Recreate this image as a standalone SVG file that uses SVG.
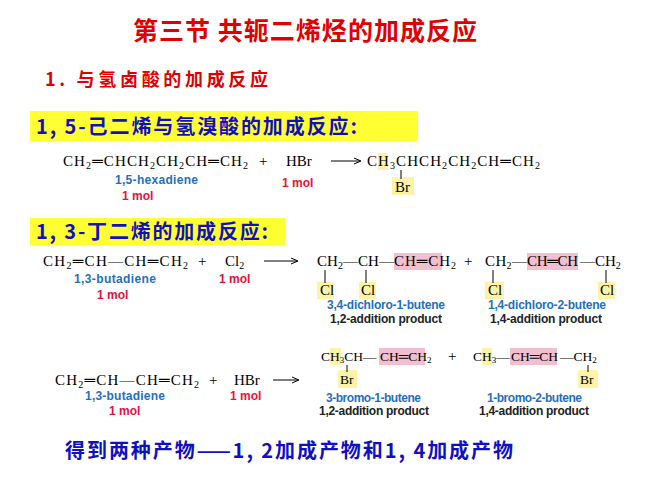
<svg xmlns="http://www.w3.org/2000/svg" width="668" height="500" viewBox="0 0 668 500">
<style>
.t{font-family:"Noto Sans CJK SC",sans-serif;font-weight:bold}
.c{font-family:"Liberation Serif",serif;font-size:15px;fill:#000}
.s{font-family:"Liberation Serif",serif;font-size:13.5px;fill:#000}
.b{font-family:"Liberation Sans",sans-serif;font-size:12px;fill:#1f6fbf;font-weight:bold}
.r{font-family:"Liberation Sans",sans-serif;font-size:12px;fill:#e8103c;font-weight:bold}
.k{font-family:"Liberation Sans",sans-serif;font-size:12px;fill:#222;font-weight:bold}
.y{fill:#fbf3a8}.p{fill:#f2bfd0}
line{stroke:#000;stroke-width:1}
</style>
<rect width="668" height="500" fill="#fff"/>
<g id="title"><text class="t" x="133" y="40" font-size="25" fill="#e00000" textLength="344" lengthAdjust="spacing">第三节  共轭二烯烃的加成反应</text></g>
<g id="h1"><text class="t" x="45" y="86" font-size="18" fill="#e00000" textLength="223" lengthAdjust="spacing">1. 与氢卤酸的加成反应</text></g>
<g id="box1"><rect x="30" y="111" width="388" height="30" fill="#ffff33"/><text class="t" x="36" y="134" font-size="20" fill="#1010c0" textLength="321" lengthAdjust="spacing">1, 5-己二烯与氢溴酸的加成反应:</text></g>
<g id="box2"><rect x="30" y="218" width="255" height="27" fill="#ffff33"/><text class="t" x="36" y="239" font-size="20" fill="#1010c0" textLength="232" lengthAdjust="spacing">1, 3-丁二烯的加成反应:</text></g>
<g id="r1">
<rect class="y" x="378" y="153" width="10" height="17"/><rect class="y" x="392" y="177" width="22" height="18"/>
<text class="c" x="63" y="166" textLength="185" lengthAdjust="spacing">CH<tspan font-size="10" dy="3">2</tspan><tspan dy="-3">═CHCH</tspan><tspan font-size="10" dy="3">2</tspan><tspan dy="-3">CH</tspan><tspan font-size="10" dy="3">2</tspan><tspan dy="-3">CH═CH</tspan><tspan font-size="10" dy="3">2</tspan></text>
<text class="c" x="259" y="166">+</text><text class="c" x="286" y="166">HBr</text>
<text class="c" x="367" y="166" textLength="173" lengthAdjust="spacing">CH<tspan font-size="10" dy="3">3</tspan><tspan dy="-3">CHCH</tspan><tspan font-size="10" dy="3">2</tspan><tspan dy="-3">CH</tspan><tspan font-size="10" dy="3">2</tspan><tspan dy="-3">CH═CH</tspan><tspan font-size="10" dy="3">2</tspan></text>
<line x1="401" y1="170" x2="401" y2="179"/>
<text class="c" x="395" y="192">Br</text>
<text class="b" x="115" y="184" textLength="83">1,5-hexadiene</text><text class="r" x="122" y="200">1 mol</text><text class="r" x="282" y="187">1 mol</text>
</g>
<g id="r2">
<rect class="p" x="394" y="253" width="48" height="17"/><rect class="p" x="527" y="253" width="51" height="17"/>
<rect class="y" x="317" y="282" width="17" height="17"/><rect class="y" x="359" y="282" width="17" height="17"/>
<rect class="y" x="485" y="282" width="19" height="17"/><rect class="y" x="598" y="282" width="17" height="17"/>
<text class="c" x="43" y="266" textLength="145" lengthAdjust="spacing">CH<tspan font-size="10" dy="3">2</tspan><tspan dy="-3">═CH—CH═CH</tspan><tspan font-size="10" dy="3">2</tspan></text>
<text class="c" x="198" y="266">+</text><text class="c" x="225" y="266">Cl<tspan font-size="10" dy="3">2</tspan></text>
<text class="c" x="317" y="266" textLength="77" lengthAdjust="spacing">CH<tspan font-size="10" dy="3">2</tspan><tspan dy="-3">—CH—</tspan></text>
<text class="c" x="394" y="266" textLength="62" lengthAdjust="spacing">CH═CH<tspan font-size="10" dy="3">2</tspan></text>
<text class="c" x="464" y="266">+</text>
<text class="c" x="485" y="266" textLength="42" lengthAdjust="spacing">CH<tspan font-size="10" dy="3">2</tspan><tspan dy="-3">—</tspan></text>
<text class="c" x="527" y="266" textLength="51" lengthAdjust="spacing">CH═CH</text>
<text class="c" x="580" y="266">—CH<tspan font-size="10" dy="3">2</tspan></text>
<line x1="325" y1="270" x2="325" y2="283"/><line x1="366" y1="270" x2="366" y2="283"/>
<line x1="493" y1="270" x2="493" y2="283"/><line x1="606" y1="270" x2="606" y2="283"/>
<text class="c" x="320" y="295">Cl</text><text class="c" x="361" y="295">Cl</text><text class="c" x="488" y="295">Cl</text><text class="c" x="600" y="295">Cl</text>
<text class="b" x="74" y="283" textLength="82">1,3-butadiene</text><text class="r" x="97" y="299">1 mol</text><text class="r" x="219" y="283">1 mol</text>
<text class="b" x="327" y="309" textLength="118">3,4-dichloro-1-butene</text><text class="k" x="330" y="323" textLength="112">1,2-addition product</text>
<text class="b" x="488" y="309" textLength="118">1,4-dichloro-2-butene</text><text class="k" x="490" y="323" textLength="112">1,4-addition product</text>
</g>
<g id="r3">
<rect class="y" x="330" y="348" width="11" height="17"/><rect class="p" x="379" y="348" width="46" height="17"/>
<rect class="y" x="338" y="370" width="19" height="18"/>
<rect class="y" x="482" y="348" width="10" height="17"/><rect class="p" x="510" y="348" width="47" height="17"/>
<rect class="y" x="578" y="370" width="20" height="18"/>
<text class="s" x="321" y="361">CH<tspan font-size="9" dy="2">3</tspan><tspan dy="-2">CH—</tspan></text>
<text class="s" x="380" y="361">CH═CH<tspan font-size="9" dy="2">2</tspan></text>
<text class="c" x="448" y="361">+</text>
<text class="s" x="473" y="361">CH<tspan font-size="9" dy="2">3</tspan><tspan dy="-2">—</tspan></text>
<text class="s" x="511" y="361">CH═CH</text>
<text class="s" x="560" y="361">—CH<tspan font-size="9" dy="2">2</tspan></text>
<line x1="347" y1="365" x2="347" y2="372"/><line x1="588" y1="365" x2="588" y2="372"/>
<text class="s" x="340" y="384">Br</text><text class="s" x="580" y="384">Br</text>
<text class="c" x="55" y="385" textLength="144" lengthAdjust="spacing">CH<tspan font-size="10" dy="3">2</tspan><tspan dy="-3">═CH—CH═CH</tspan><tspan font-size="10" dy="3">2</tspan></text>
<text class="c" x="209" y="385">+</text><text class="c" x="234" y="385">HBr</text>
<text class="b" x="85" y="400" textLength="80">1,3-butadiene</text><text class="r" x="109" y="415">1 mol</text><text class="r" x="230" y="400">1 mol</text>
<text class="b" x="326" y="402" textLength="95">3-bromo-1-butene</text><text class="k" x="319" y="415" textLength="110">1,2-addition product</text>
<text class="b" x="487" y="402" textLength="95">1-bromo-2-butene</text><text class="k" x="479" y="415" textLength="110">1,4-addition product</text>
</g>
<g id="connectors">
<line x1="331" y1="161" x2="360" y2="161"/><path d="M354,158 L361,161 L354,164" fill="none" stroke="#000"/>
<line x1="264" y1="261" x2="297" y2="261"/><path d="M291,258 L298,261 L291,264" fill="none" stroke="#000"/>
<line x1="273" y1="380" x2="298" y2="380"/><path d="M292,377 L299,380 L292,383" fill="none" stroke="#000"/>
</g>
<g id="footer"><text class="t" x="65" y="458" font-size="20" fill="#1010c0" textLength="448" lengthAdjust="spacing">得到两种产物——1, 2加成产物和1, 4加成产物</text></g>
</svg>
